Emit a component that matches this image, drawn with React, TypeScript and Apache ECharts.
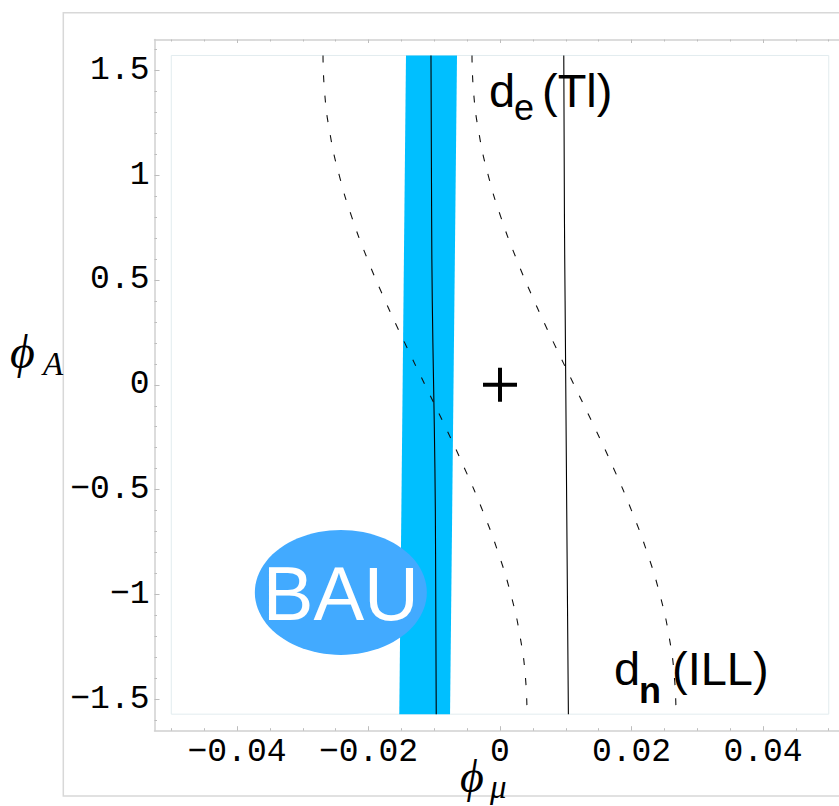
import React, { useEffect, useRef } from "react";
import * as echarts from "echarts";

// ---- axis extents (frame) and plot range ----
const XMIN = -0.05255;
const XMAX = 0.05156;
const YMIN = -1.6497;
const YMAX = 1.6469;
const PLOT_X = [-0.05, 0.05];
const PLOT_Y = [-1.5708, 1.5708];

// ---- ticks ----
const X_TICKS_MAJOR = [-0.04, -0.02, 0, 0.02, 0.04];
const X_TICKS_MINOR = [-0.05, -0.045, -0.035, -0.03, -0.025, -0.015, -0.01, -0.005, 0.005, 0.01, 0.015, 0.025, 0.03, 0.035, 0.045, 0.05];
const Y_TICKS_MAJOR = [-1.5, -1, -0.5, 0, 0.5, 1, 1.5];
const Y_TICKS_MINOR = [-1.6, -1.4, -1.3, -1.2, -1.1, -0.9, -0.8, -0.7, -0.6, -0.4, -0.3, -0.2, -0.1, 0.1, 0.2, 0.3, 0.4, 0.6, 0.7, 0.8, 0.9, 1.1, 1.2, 1.3, 1.4, 1.6];

// ---- BAU band (corners: phi_mu, phi_A) ----
const BAND_X = [-0.0143, -0.00654, -0.0076, -0.01532];
const BAND_Y = [1.5708, 1.5708, -1.5708, -1.5708];

// ---- solid contours ----
const SOLID_PHI = [1.5708, 0.8, 0.4, 0, -0.4, -0.8, -1.5708];
const SOLID_LEFT = [-0.0105, -0.0104, -0.0103, -0.0101, -0.0099, -0.0098, -0.0097];
const SOLID_RIGHT = [0.0097, 0.0098, 0.0099, 0.01, 0.0101, 0.0102, 0.0104];

// ---- dashed contours ----
const DASH_PHI = [1.5708, 1.4, 1.2, 1.0, 0.8, 0.6, 0.4, 0.2, 0, -0.2, -0.4, -0.6, -0.8, -1.0, -1.2, -1.4, -1.5708];
const DASH_LEFT = [-0.02692, -0.02669, -0.02587, -0.02446, -0.02254, -0.02017, -0.01745, -0.01449, -0.01141, -0.00832, -0.00537, -0.00265, -0.00028, 0.00165, 0.00305, 0.00388, 0.00411];
const DASH_RIGHT = [-0.00426, -0.00403, -0.0032, -0.0018, 0.00013, 0.0025, 0.00521, 0.00817, 0.01126, 0.01434, 0.0173, 0.02001, 0.02238, 0.02431, 0.02571, 0.02654, 0.02677];

// ---- markers ----
const ORIGIN = [0, 0];
const BAU_CENTER = [-0.02421, -0.99];

const MONO = "'Liberation Mono', 'Courier New', monospace";
const SANS = "'Liberation Sans', Arial, sans-serif";
const SERIF = "'Liberation Serif', 'DejaVu Serif', serif";

const fmt = (v: number) => String(v).replace("-", "\u2212");

function txt(x: number, y: number, text: string, size: number, family: string, extra: any = {}) {
  return {
    type: "text",
    x,
    y,
    silent: true,
    style: {
      text,
      fontSize: size,
      fontFamily: family,
      fill: "#000",
      align: "left",
      verticalAlign: "middle",
      textAlign: "left",
      textVerticalAlign: "middle",
      ...extra,
    },
  };
}

export default function App() {
  const ref = useRef<HTMLDivElement>(null);
  useEffect(() => {
    if (!ref.current) return;
    const chart = echarts.init(ref.current, undefined, { renderer: "svg" });
    const axisLine = { show: true, onZero: false, lineStyle: { color: "#d0d0d0", width: 1.5 } };
    const tickStyle = { color: "#bdbdbd", width: 1 };
    const baseX = { type: "value", min: XMIN, max: XMAX, splitLine: { show: false } };
    const baseY = { type: "value", min: YMIN, max: YMAX, splitLine: { show: false } };
    const bandPts = BAND_X.map((x, i) => [x, BAND_Y[i]]);

    const option: any = {
      animation: false,
      backgroundColor: "#fff",
      grid: { left: 154.5, top: 39.5, right: 0, bottom: 75.3, show: false, outerBoundsMode: "none", containLabel: false },
      xAxis: [
        {
          ...baseX,
          position: "bottom",
          axisLine,
          axisTick: { show: true, inside: true, length: 4.5, customValues: X_TICKS_MAJOR, lineStyle: tickStyle },
          axisLabel: { show: true, customValues: X_TICKS_MAJOR, formatter: fmt, fontFamily: MONO, fontSize: 33, lineHeight: 30, color: "#000", margin: 6.5 },
        },
        {
          ...baseX,
          position: "bottom",
          axisLine: { show: false, onZero: false },
          axisTick: { show: true, inside: true, length: 2.5, customValues: X_TICKS_MINOR, lineStyle: tickStyle },
          axisLabel: { show: false },
        },
        {
          ...baseX,
          position: "top",
          axisLine,
          axisTick: { show: true, inside: true, length: 3.5, customValues: X_TICKS_MAJOR, lineStyle: tickStyle },
          axisLabel: { show: false },
        },
        {
          ...baseX,
          position: "top",
          axisLine: { show: false, onZero: false },
          axisTick: { show: true, inside: true, length: 2, customValues: X_TICKS_MINOR, lineStyle: tickStyle },
          axisLabel: { show: false },
        },
      ],
      yAxis: [
        {
          ...baseY,
          position: "left",
          axisLine,
          axisTick: { show: true, inside: true, length: 5, customValues: Y_TICKS_MAJOR, lineStyle: tickStyle },
          axisLabel: { show: true, customValues: Y_TICKS_MAJOR, formatter: fmt, fontFamily: MONO, fontSize: 33, color: "#000", margin: 5 },
        },
        {
          ...baseY,
          position: "left",
          axisLine: { show: false, onZero: false },
          axisTick: { show: true, inside: true, length: 2.5, customValues: Y_TICKS_MINOR, lineStyle: tickStyle },
          axisLabel: { show: false },
        },
      ],
      series: [
        {
          type: "custom",
          name: "band",
          data: bandPts,
          z: 1,
          renderItem: (params: any, api: any) => {
            if (params.dataIndex !== 0) return null;
            const pts = bandPts.map((p) => api.coord(p));
            return { type: "polygon", shape: { points: pts }, style: { fill: "#00BFFF" } };
          },
        },
        {
          type: "scatter",
          name: "BAU",
          z: 2,
          data: [BAU_CENTER],
          symbol: "circle",
          symbolSize: [172, 125],
          itemStyle: { color: "#42AAFF", opacity: 1 },
          label: {
            show: true,
            position: "inside",
            formatter: "BAU",
            color: "#fff",
            fontFamily: SANS,
            fontSize: 76,
            offset: [0, 1.5],
          },
        },
        {
          type: "line",
          name: "solidL",
          z: 3,
          data: SOLID_PHI.map((p, i) => [SOLID_LEFT[i], p]),
          symbol: "none",
          smooth: true,
          lineStyle: { color: "#000", width: 1.1 },
          markArea: {
            silent: true,
            itemStyle: { color: "rgba(255,255,255,0)", borderColor: "#e2ecef", borderWidth: 1 },
            data: [[{ coord: [PLOT_X[0], PLOT_Y[0]] }, { coord: [PLOT_X[1], PLOT_Y[1]] }]],
          },
        },
        {
          type: "line",
          name: "solidR",
          z: 3,
          data: SOLID_PHI.map((p, i) => [SOLID_RIGHT[i], p]),
          symbol: "none",
          smooth: true,
          lineStyle: { color: "#000", width: 1.1 },
        },
        {
          type: "line",
          name: "dashL",
          z: 3,
          data: DASH_PHI.map((p, i) => [DASH_LEFT[i], p]),
          symbol: "none",
          smooth: true,
          lineStyle: { color: "#111", width: 1.1, type: [7, 13] },
        },
        {
          type: "line",
          name: "dashR",
          z: 3,
          data: DASH_PHI.map((p, i) => [DASH_RIGHT[i], p]),
          symbol: "none",
          smooth: true,
          lineStyle: { color: "#111", width: 1.1, type: [7, 13] },
        },
        {
          type: "scatter",
          name: "origin",
          z: 4,
          data: [ORIGIN],
          symbol: "path://M15,0H19V15H34V19H19V34H15V19H0V15H15Z",
          symbolSize: 34,
          itemStyle: { color: "#000", opacity: 1 },
        },
      ],
      graphic: [
        {
          type: "rect",
          silent: true,
          z: -10,
          shape: { x: 63.3, y: 12.7, width: 900, height: 783.3 },
          style: { fill: "none", stroke: "#d8d8d8", lineWidth: 1.5 },
        },
        txt(489, 90.5, "d", 47, SANS),
        txt(514, 107.5, "e", 36, SANS),
        txt(542, 90.5, "(Tl)", 47, SANS),
        txt(614, 668.5, "d", 47, SANS),
        txt(639, 690.5, "n", 36, SANS, { fontWeight: "bold" }),
        txt(672, 668.5, "(ILL)", 47, SANS),
        txt(10, 351, "\u03D5", 48, SERIF, { fontStyle: "italic" }),
        txt(43, 364, "A", 33, SERIF, { fontStyle: "italic" }),
        txt(460, 776, "\u03D5", 46, SERIF, { fontStyle: "italic", lineHeight: 40 }),
        txt(490, 787, "\u03BC", 33, SERIF, { fontStyle: "italic", lineHeight: 26 }),
      ],
    };
    chart.setOption(option);
    return () => chart.dispose();
  }, []);
  return (
    <div
      ref={ref}
      style={{ position: "absolute", left: 0, top: 0, width: 839, height: 806, background: "#fff" }}
    />
  );
}
